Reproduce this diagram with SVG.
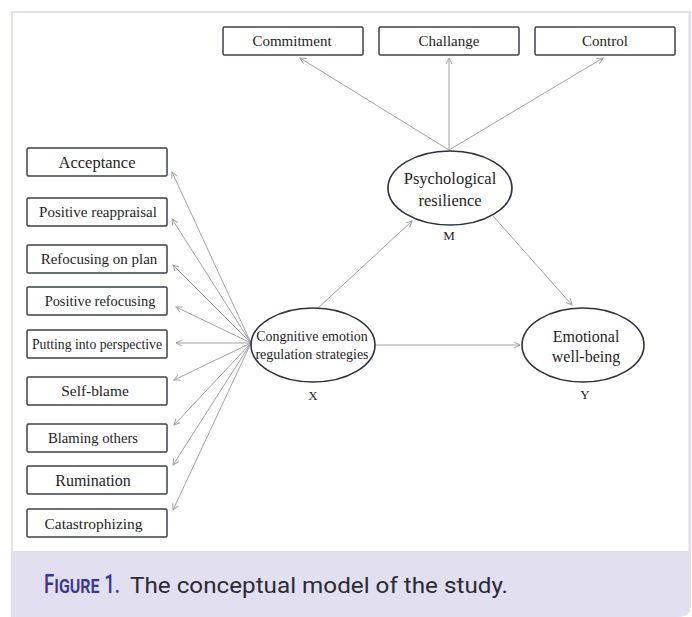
<svg xmlns="http://www.w3.org/2000/svg" width="692" height="617" viewBox="0 0 692 617">
<style>
.box{fill:#fff;stroke:#3b404c;stroke-width:1.5}
.ell{fill:#fff;stroke:#2c3140;stroke-width:1.6}
.t{font-family:"Liberation Serif","Times New Roman",serif;fill:#1e1e1e;text-anchor:middle}
.c line{stroke:#a3a3a8;stroke-width:1;marker-end:url(#ah)}
.fig{font-family:Roboto,"DejaVu Sans",sans-serif;fill:#3b3790;font-weight:500;font-variant:small-caps}
</style>
<defs>
<marker id="ah" markerUnits="userSpaceOnUse" markerWidth="8" markerHeight="8" refX="6" refY="3.5" orient="auto" viewBox="0 0 8 7">
<path d="M0,0.5 L6,3.5 L0,6.5" fill="none" stroke="#a3a3a8" stroke-width="1"/>
</marker>
</defs>
<rect x="0" y="0" width="692" height="617" fill="#fff"/>
<path d="M11,11 H691 V604 Q691,617 678,617 H11 Z" fill="#e1dff0"/>
<rect x="13" y="13" width="675.5" height="538" fill="#fff"/>

<g class="c" id="connectors">
<line x1="449" y1="150" x2="300" y2="58"/>
<line x1="449" y1="150" x2="449" y2="58"/>
<line x1="449" y1="150" x2="603" y2="58"/>
<line x1="317" y1="309" x2="412" y2="221"/>
<line x1="493" y1="216" x2="572" y2="305"/>
<line x1="375" y1="345" x2="520" y2="345"/>
<line x1="251" y1="343" x2="172" y2="172"/>
<line x1="251" y1="343" x2="172" y2="219"/>
<line x1="251" y1="343" x2="173" y2="265"/>
<line x1="251" y1="343" x2="176" y2="307"/>
<line x1="251" y1="343" x2="176" y2="343"/>
<line x1="251" y1="343" x2="174" y2="380"/>
<line x1="251" y1="343" x2="174" y2="425"/>
<line x1="251" y1="343" x2="173" y2="465"/>
<line x1="251" y1="343" x2="173" y2="510"/>
</g>

<g id="commitment"><rect class="box" x="223" y="27" width="140" height="28" rx="1.5"/><text class="t" x="292" y="46" font-size="15">Commitment</text></g>
<g id="challange"><rect class="box" x="379" y="27" width="140" height="28" rx="1.5"/><text class="t" x="449" y="46" font-size="15">Challange</text></g>
<g id="control"><rect class="box" x="535" y="27" width="140" height="28" rx="1.5"/><text class="t" x="605" y="46" font-size="15">Control</text></g>

<g id="acceptance"><rect class="box" x="27" y="148" width="140" height="28" rx="1.5"/><text class="t" x="97" y="167.5" font-size="16.5">Acceptance</text></g>
<g id="positive-reappraisal"><rect class="box" x="27" y="198" width="140" height="28" rx="1.5"/><text class="t" x="98" y="217" font-size="15">Positive reappraisal</text></g>
<g id="refocusing-on-plan"><rect class="box" x="27" y="245" width="140" height="28" rx="1.5"/><text class="t" x="99" y="264" font-size="15">Refocusing on plan</text></g>
<g id="positive-refocusing"><rect class="box" x="27" y="287" width="140" height="28" rx="1.5"/><text class="t" x="100" y="306" font-size="14.4">Positive refocusing</text></g>
<g id="putting-into-perspective"><rect class="box" x="27" y="330" width="140" height="28" rx="1.5"/><text class="t" x="97" y="348.5" font-size="13.7">Putting into perspective</text></g>
<g id="self-blame"><rect class="box" x="27" y="377" width="140" height="28" rx="1.5"/><text class="t" x="95" y="396" font-size="15.4">Self-blame</text></g>
<g id="blaming-others"><rect class="box" x="27" y="424" width="140" height="28" rx="1.5"/><text class="t" x="93" y="443" font-size="14.7">Blaming others</text></g>
<g id="rumination"><rect class="box" x="27" y="466" width="140" height="28" rx="1.5"/><text class="t" x="93" y="485.5" font-size="16">Rumination</text></g>
<g id="catastrophizing"><rect class="box" x="27" y="509" width="140" height="28" rx="1.5"/><text class="t" x="93.5" y="528.5" font-size="15.5">Catastrophizing</text></g>

<g id="M"><ellipse class="ell" cx="450" cy="188" rx="62" ry="37"/><text class="t" x="450" y="184" font-size="16.5">Psychological</text><text class="t" x="450" y="206" font-size="16.5">resilience</text><text class="t" x="449" y="240" font-size="13">M</text></g>
<g id="X"><ellipse class="ell" cx="313" cy="345" rx="62" ry="37"/><text class="t" x="312" y="341" font-size="14">Congnitive emotion</text><text class="t" x="312" y="359" font-size="14">regulation strategies</text><text class="t" x="313" y="400" font-size="13">X</text></g>
<g id="Y"><ellipse class="ell" cx="583" cy="345" rx="61" ry="37"/><text class="t" x="586" y="341.5" font-size="16">Emotional</text><text class="t" x="586" y="362" font-size="16">well-being</text><text class="t" x="585" y="399" font-size="13">Y</text></g>

<g id="caption">
<text class="fig" transform="translate(44,593) scale(0.8,1)" x="0" y="0" font-size="25" textLength="95" lengthAdjust="spacingAndGlyphs">Figure 1.</text>
<text x="130" y="593" font-family="Roboto,'Open Sans',sans-serif" font-size="22" fill="#2b2b33" textLength="378" lengthAdjust="spacingAndGlyphs">The conceptual model of the study.</text>
</g>
</svg>
